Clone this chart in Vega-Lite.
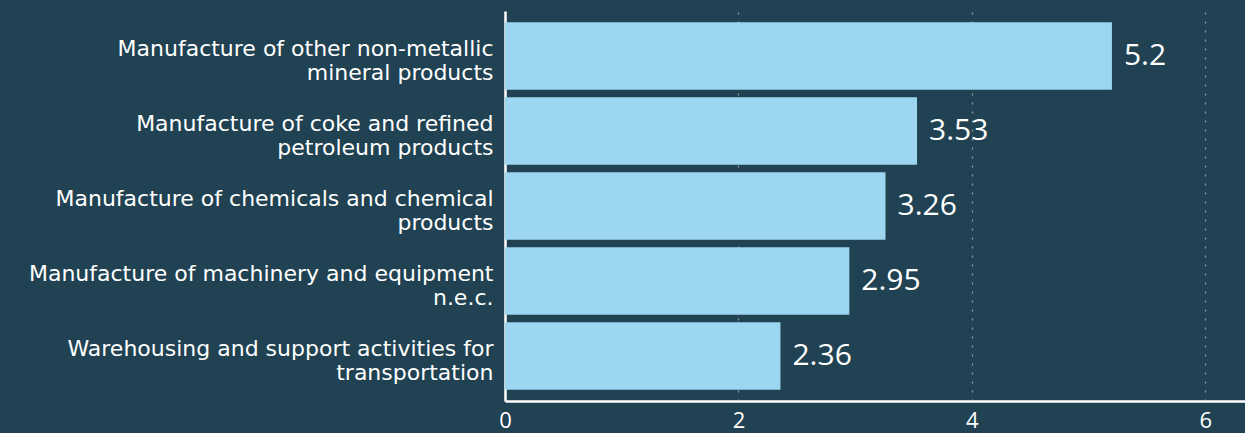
{
  "$schema": "https://vega.github.io/schema/vega-lite/v6.json",
  "width": 740,
  "height": 390,
  "padding": {"left": 505, "top": 11, "right": 0, "bottom": 32},
  "autosize": {"type": "none"},
  "background": "#204252",
  "config": {
    "view": {"stroke": null},
    "font": "Open Sans"
  },
  "data": {
    "values": [
      {"sector": "Manufacture of other non-metallic|mineral products", "value": 5.2},
      {"sector": "Manufacture of coke and refined|petroleum products", "value": 3.53},
      {"sector": "Manufacture of chemicals and chemical|products", "value": 3.26},
      {"sector": "Manufacture of machinery and equipment|n.e.c.", "value": 2.95},
      {"sector": "Warehousing and support activities for|transportation", "value": 2.36}
    ]
  },
  "encoding": {
    "y": {
      "field": "sector",
      "type": "nominal",
      "sort": null,
      "scale": {"paddingInner": 0.1, "paddingOuter": 0.15},
      "axis": {
        "title": null,
        "labelExpr": "split(datum.label, '|')",
        "labelColor": "#ffffff",
        "labelFont": "DejaVu Sans",
        "labelFontSize": 22,
        "labelLineHeight": 24,
        "labelPadding": 12,
        "labelOffset": -7,
        "labelLimit": 600,
        "ticks": false,
        "domainColor": "#ffffff",
        "domainWidth": 2.5,
        "grid": false
      }
    },
    "x": {
      "field": "value",
      "type": "quantitative",
      "scale": {"domain": [0, 6.34], "nice": false},
      "axis": {
        "title": null,
        "values": [0, 2, 4, 6],
        "labelColor": "#ffffff",
        "labelFontSize": 22,
        "labelPadding": 9,
        "labelFlush": false,
        "ticks": false,
        "domainColor": "#ffffff",
        "domainWidth": 2.5,
        "grid": true,
        "gridColor": "#8aa0ab",
        "gridDash": [2, 7],
        "gridWidth": 1.2
      }
    }
  },
  "layer": [
    {"mark": {"type": "bar", "color": "#9dd6f0"}},
    {
      "mark": {"type": "text", "align": "left", "dx": 12, "color": "#ffffff", "fontSize": 30},
      "encoding": {"text": {"field": "value", "type": "quantitative"}}
    }
  ]
}
